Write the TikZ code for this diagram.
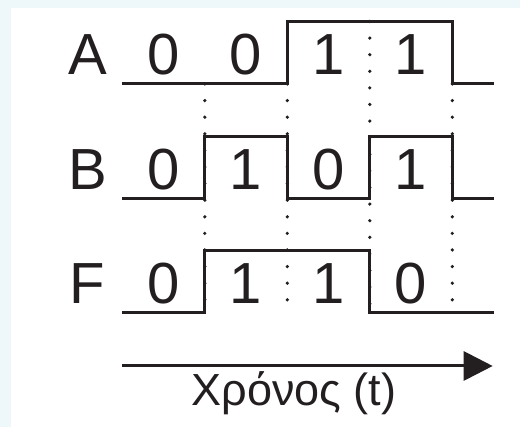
\documentclass[tikz,border=0pt]{standalone}
\usepackage{fontspec}
\setmainfont{Liberation Sans}
\usetikzlibrary{arrows.meta}
\definecolor{sigC}  {HTML}{231F20}
\definecolor{bgBlue}{HTML}{EEF8FA}
\tikzset{
  sig/.style={line width=3pt,sigC,line join=miter},
  guide/.style={line width=3.6pt,sigC,line cap=round,
                dash pattern=on 0pt off 16.6pt},
  sigName/.style={font=\fontsize{58}{60}\selectfont,text=sigC,
                  anchor=base,inner sep=0pt},
  bitVal/.style={font=\fontsize{58}{60}\selectfont,text=sigC,
                 anchor=base,inner sep=0pt},
  timeArrow/.style={-{Triangle[length=29pt,width=29pt]},line width=3pt,sigC},
  timeLabel/.style={font=\fontsize{45}{48}\selectfont,text=sigC,
                    anchor=base,inner sep=0pt},
}

\begin{document}
\begin{tikzpicture}[x=1pt,y=1pt]

% Page: pale blue margin left and top, white panel.
\fill[bgBlue] (0,0) rectangle (520,427);
\fill[white] (11,0) rectangle (520,419);

\pgfmathsetmacro{\XO}{122.3}
\pgfmathsetmacro{\TW}{82.5}

% Dotted time marks at the four clock edges.
\draw[guide] (204.8,343) -- (204.8,114);
\draw[guide] (287.3,343) -- (287.3,114);
\draw[guide] (369.8,405.5) -- (369.8,114);
\draw[guide] (452.3,343) -- (452.3,114);

% Waveforms A, B and F.
\draw[sig] (\XO,343) -- (287.3,343) -- (287.3,405.5) -- (452.3,405.5)
  -- (452.3,343) -- (494.3,343);
\draw[sig] (\XO,228) -- (204.8,228) -- (204.8,290.5) -- (287.3,290.5)
  -- (287.3,228) -- (369.8,228) -- (369.8,290.5) -- (452.3,290.5)
  -- (452.3,228) -- (494.3,228);
\draw[sig] (\XO,114) -- (204.8,114) -- (204.8,176.5) -- (369.8,176.5)
  -- (369.8,114) -- (494.3,114);

% Signal names and bit values in each time slot.
\foreach \nm/\lo/\ba/\bb/\bc/\bd in {A/343/0/0/1/1, B/228/0/1/0/1, F/114/0/1/1/0} {
  \node[sigName] (lab\nm) at (87.5,\lo+9) {\nm};
  \node[bitVal] (bit\nm1) at (\XO+0.5*\TW,\lo+9) {\ba};
  \node[bitVal] (bit\nm2) at (\XO+1.5*\TW,\lo+9) {\bb};
  \node[bitVal] (bit\nm3) at (\XO+2.5*\TW,\lo+9) {\bc};
  \node[bitVal] (bit\nm4) at (\XO+3.5*\TW,\lo+9) {\bd};
}

% Time axis.
\coordinate (tStart) at (\XO,61);
\coordinate (tEnd)   at (492.7,61);
\draw[timeArrow] (tStart) -- (tEnd);
\node[timeLabel] (timeLab) at (294,21) {Χρόνος (t)};

\end{tikzpicture}
\end{document}
